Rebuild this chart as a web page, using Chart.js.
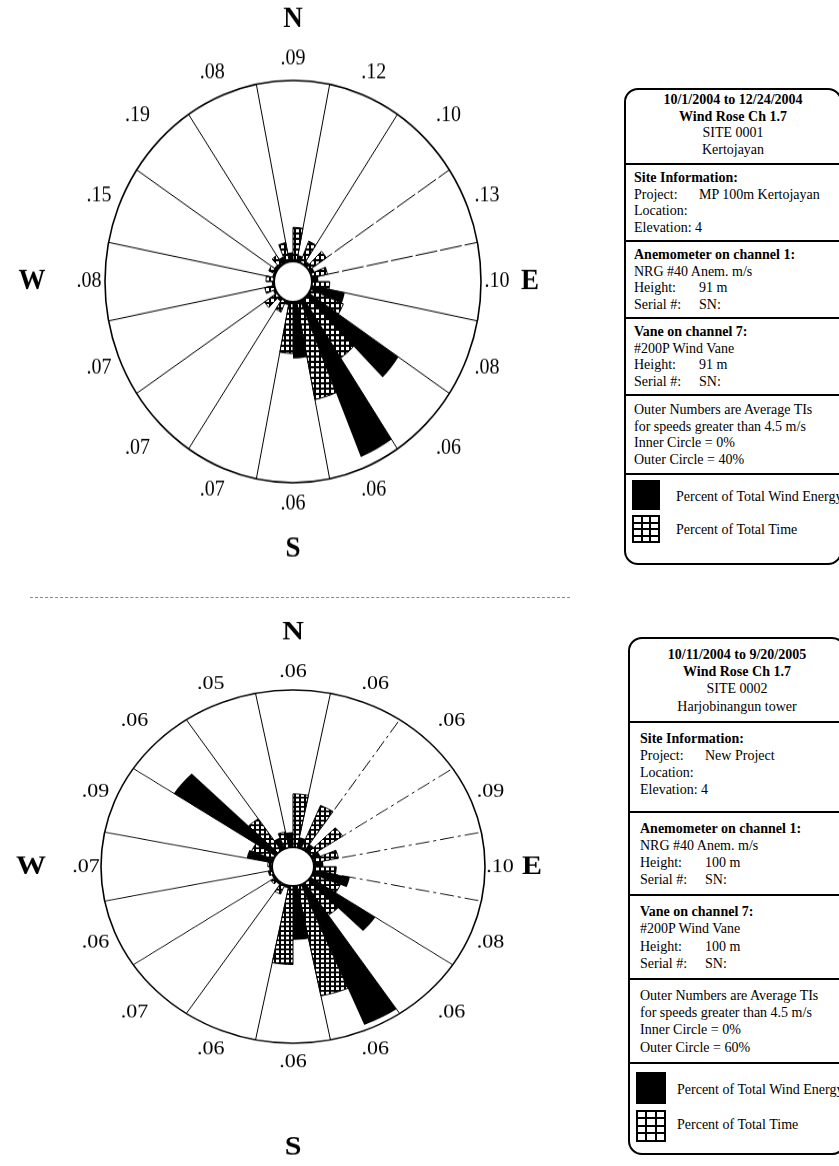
<!DOCTYPE html>
<html>
<head>
<meta charset="utf-8">
<title>Wind Rose Ch 1.7</title>
<script src="https://cdn.jsdelivr.net/npm/chart.js"></script>
<style>
  html, body { margin:0; padding:0; background:#fff; }
  body { width:839px; height:1166px; overflow:hidden; position:relative;
         font-family:"Liberation Serif","Times New Roman",serif; color:#000; }
  .wrap { position:absolute; width:590px; transform-origin:0 0; }
  .wrap canvas { display:block; }
  .sep { position:absolute; left:30px; top:597px; width:540px; border-top:1px dashed #888; }
  .box { position:absolute; width:214px; border:2px solid #000; border-radius:14px; background:#fff; font-size:14px; }
  .sec { border-bottom:2px solid #000; padding:5px 0 4px 8px; }
  .c { text-align:center; padding-left:0; }
  .ln { height:16.5px; line-height:16.5px; white-space:nowrap; }
  .b { font-weight:bold; }
  .k { display:inline-block; width:65px; }
  .leg { position:relative; }
  .sw { position:absolute; background:#000; }
  .grid { display:grid; grid-template-columns:repeat(3,1fr); grid-template-rows:repeat(4,1fr); gap:2px; padding:2px; box-sizing:border-box; }
  .grid i { background:#fff; display:block; }
  .lt { position:absolute; white-space:nowrap; line-height:17px; }
  #box2 .sec { padding:7px 0 6px 10px; }
  #box2 .ln { height:17.2px; line-height:17.2px; }
  #box2 .sec.c { padding-left:0; }
</style>
</head>
<body>

<div class="wrap" id="wrap1"><canvas id="rose1"></canvas></div>
<div class="sep"></div>
<div class="wrap" id="wrap2"><canvas id="rose2"></canvas></div>

<div class="box" id="box1" style="left:624px; top:88px;">
  <div class="sec c" style="padding-top:2px; padding-bottom:5px">
    <div class="ln b">10/1/2004 to 12/24/2004</div>
    <div class="ln b">Wind Rose Ch 1.7</div>
    <div class="ln">SITE 0001</div>
    <div class="ln">Kertojayan</div>
  </div>
  <div class="sec">
    <div class="ln b">Site Information:</div>
    <div class="ln"><span class="k">Project:</span>MP 100m Kertojayan</div>
    <div class="ln">Location:</div>
    <div class="ln">Elevation: 4</div>
  </div>
  <div class="sec">
    <div class="ln b">Anemometer on channel 1:</div>
    <div class="ln">NRG #40 Anem. m/s</div>
    <div class="ln"><span class="k">Height:</span>91 m</div>
    <div class="ln"><span class="k">Serial #:</span>SN:</div>
  </div>
  <div class="sec">
    <div class="ln b">Vane on channel 7:</div>
    <div class="ln">#200P Wind Vane</div>
    <div class="ln"><span class="k">Height:</span>91 m</div>
    <div class="ln"><span class="k">Serial #:</span>SN:</div>
  </div>
  <div class="sec" style="padding-top:6px; padding-bottom:5px">
    <div class="ln">Outer Numbers are Average TIs</div>
    <div class="ln">for speeds greater than 4.5 m/s</div>
    <div class="ln">Inner Circle = 0%</div>
    <div class="ln">Outer Circle = 40%</div>
  </div>
  <div class="leg" style="height:88px">
    <div class="sw" style="left:6px; top:5px; width:28px; height:30px"></div>
    <div class="lt" style="left:50px; top:13px">Percent of Total Wind Energy</div>
    <div class="sw grid" style="left:6px; top:40px; width:28px; height:28px"><i></i><i></i><i></i><i></i><i></i><i></i><i></i><i></i><i></i><i></i><i></i><i></i></div>
    <div class="lt" style="left:50px; top:46px">Percent of Total Time</div>
  </div>
</div>

<div class="box" id="box2" style="left:628px; top:637px;">
  <div class="sec c">
    <div class="ln b">10/11/2004 to 9/20/2005</div>
    <div class="ln b">Wind Rose Ch 1.7</div>
    <div class="ln">SITE 0002</div>
    <div class="ln">Harjobinangun tower</div>
  </div>
  <div class="sec" style="padding-bottom:12px">
    <div class="ln b">Site Information:</div>
    <div class="ln"><span class="k">Project:</span>New Project</div>
    <div class="ln">Location:</div>
    <div class="ln">Elevation: 4</div>
  </div>
  <div class="sec">
    <div class="ln b">Anemometer on channel 1:</div>
    <div class="ln">NRG #40 Anem. m/s</div>
    <div class="ln"><span class="k">Height:</span>100 m</div>
    <div class="ln"><span class="k">Serial #:</span>SN:</div>
  </div>
  <div class="sec">
    <div class="ln b">Vane on channel 7:</div>
    <div class="ln">#200P Wind Vane</div>
    <div class="ln"><span class="k">Height:</span>100 m</div>
    <div class="ln"><span class="k">Serial #:</span>SN:</div>
  </div>
  <div class="sec">
    <div class="ln">Outer Numbers are Average TIs</div>
    <div class="ln">for speeds greater than 4.5 m/s</div>
    <div class="ln">Inner Circle = 0%</div>
    <div class="ln">Outer Circle = 60%</div>
  </div>
  <div class="leg" style="height:89px">
    <div class="sw" style="left:6px; top:8px; width:30px; height:32px"></div>
    <div class="lt" style="left:47px; top:17px">Percent of Total Wind Energy</div>
    <div class="sw grid" style="left:6px; top:46px; width:30px; height:32px"><i></i><i></i><i></i><i></i><i></i><i></i><i></i><i></i><i></i><i></i><i></i><i></i></div>
    <div class="lt" style="left:47px; top:52px">Percent of Total Time</div>
  </div>
</div>

<script>
// ---- data (percent values per direction, clockwise from N) ----
const DIRECTIONS = ['N','NNE','NE','ENE','E','ESE','SE','SSE','S','SSW','SW','WSW','W','WNW','NW','NNW'];

const SITE1_TIME   = [7.5, 5.2, 5.0, 3.8, 4.2, 8.4, 15.8, 22.1, 11.4, 2.8, 3.6, 2.3, 1.9, 1.7, 2.5, 4.3];
const SITE1_ENERGY = [2.0, 1.5, 1.0, 1.0, 1.5, 8.0, 25.5, 37.5, 12.5, 0.8, 0.8, 0.6, 0.5, 0.5, 0.8, 1.5];
const SITE1_TI     = ['.09','.12','.10','.13','.10','.08','.06','.06','.06','.07','.07','.07','.08','.15','.19','.08'];
const SITE1_OUTER  = 40;

const SITE2_TIME   = [20.4, 17.9, 13.6, 8.9, 7.8, 10.6, 14.9, 42.9, 30.0, 4.0, 2.0, 1.5, 1.5, 8.3, 14.6, 6.2];
const SITE2_ENERGY = [5.8, 4.0, 3.0, 3.0, 3.3, 13.0, 27.4, 58.0, 20.6, 1.0, 1.0, 0.8, 1.0, 9.2, 42.9, 4.6];
const SITE2_TI     = ['.06','.06','.06','.09','.10','.08','.06','.06','.06','.06','.07','.06','.07','.09','.06','.05'];
const SITE2_OUTER  = 60;

const COMPASS = ['N','E','S','W'];

// ---- rendering ----
function hatchPattern() {
  const c = document.createElement('canvas');
  c.width = 5; c.height = 5;
  const g = c.getContext('2d');
  g.fillStyle = '#000'; g.fillRect(0, 0, 5, 5);
  g.fillStyle = '#fff'; g.fillRect(1, 1, 3, 3);
  return g.createPattern(c, 'repeat');
}

const roseDecor = {
  id: 'roseDecor',
  afterDatasetsDraw(chart, args, o) {
    const s = chart.scales.r, ctx = chart.ctx;
    const R = s.drawingArea;
    const r0 = s.getDistanceFromCenterForValue(0);
    ctx.save();
    ctx.beginPath();
    ctx.arc(s.xCenter, s.yCenter, r0, 0, Math.PI * 2);
    ctx.fillStyle = '#fff'; ctx.fill();
    ctx.lineWidth = 2; ctx.strokeStyle = '#000'; ctx.stroke();
    ctx.fillStyle = '#000';
    ctx.textAlign = 'center'; ctx.textBaseline = 'middle';
    ctx.font = o.tiFont;
    o.ti.forEach((t, i) => {
      const a = i * Math.PI / 8;
      const gap = o.tiGap + o.diagGap * Math.pow(Math.sin(2 * a), 4)
                  - o.sideGap * Math.pow(Math.max(0, -Math.cos(2 * a)), 4);
      const p = s.getPointPosition(2 * i + 1, R + gap);
      ctx.fillText(t, p.x, p.y);
    });
    ctx.font = o.compassFont;
    COMPASS.forEach((c, k) => {
      const p = s.getPointPosition(8 * k + 1, R + o.compassGap[k]);
      ctx.fillText(c, p.x, p.y);
    });
    ctx.restore();
  }
};

function makeRose(cfg) {
  const { id, wrapId, time, energy, ti, outer, R, r0, cx, canvasH, sy, centerY, dashed, compassGap, tiFont, compassFont, sideGap } = cfg;
  const canvas = document.getElementById(id);
  canvas.width = 590; canvas.height = canvasH;
  canvas.style.width = '590px'; canvas.style.height = canvasH + 'px';
  const wrap = document.getElementById(wrapId);
  wrap.style.height = canvasH + 'px';
  wrap.style.left = '0px';
  wrap.style.top = (centerY - (canvasH / 2) * sy) + 'px';
  wrap.style.transform = 'scaleY(' + sy + ')';

  const labels = [], values = [], fills = [], borders = [];
  const hatch = hatchPattern();
  DIRECTIONS.forEach((d, i) => {
    labels.push(d + ' energy', d + ' time');
    values.push(energy[i], time[i]);
    fills.push('#000', hatch);
    borders.push(0, 1);
  });
  const minVal = -outer * r0 / (R - r0);
  const padV = canvasH / 2 - R;
  return new Chart(canvas, {
    type: 'polarArea',
    data: {
      labels,
      datasets: [{ data: values, backgroundColor: fills, borderColor: '#000', borderWidth: borders }]
    },
    options: {
      responsive: false,
      devicePixelRatio: 1,
      animation: false,
      layout: { padding: { left: cx - R, right: 590 - cx - R, top: padV, bottom: padV } },
      plugins: {
        legend: { display: false },
        tooltip: { enabled: false },
        roseDecor: { ti, tiGap: 20, diagGap: 12, sideGap, compassGap, tiFont, compassFont }
      },
      scales: {
        r: {
          min: minVal,
          max: outer,
          startAngle: -11.25,
          ticks: { display: false },
          afterBuildTicks: (scale) => { scale.ticks = [{ value: 0 }, { value: outer }]; },
          grid: { display: true, circular: true, color: '#000', lineWidth: 1.6 },
          angleLines: {
            display: true,
            color: (c) => (c.index % 2 === 0 ? '#000' : 'rgba(0,0,0,0)'),
            lineWidth: (c) => (c.index % 2 === 0 ? 1 : 0),
            borderDash: (c) => (dashed.list.includes(c.index) ? dashed.pattern : [])
          },
          pointLabels: { display: false }
        }
      }
    },
    plugins: [roseDecor]
  });
}

makeRose({ id: 'rose1', wrapId: 'wrap1', time: SITE1_TIME, energy: SITE1_ENERGY, ti: SITE1_TI, outer: SITE1_OUTER,
  R: 188, r0: 19, cx: 293, canvasH: 560, sy: 1.07, centerY: 282,
  dashed: { list: [6, 8], pattern: [22, 3] }, sideGap: 4,
  compassGap: [57, 49, 62, 73], tiFont: '20px "Liberation Serif"', compassFont: 'bold 27px "Liberation Serif"' });

makeRose({ id: 'rose2', wrapId: 'wrap2', time: SITE2_TIME, energy: SITE2_ENERGY, ti: SITE2_TI, outer: SITE2_OUTER,
  R: 192, r0: 21, cx: 293, canvasH: 660, sy: 0.92, centerY: 867,
  dashed: { list: [4, 6, 8, 10], pattern: [14, 4, 3, 4] }, sideGap: 5,
  compassGap: [63, 47, 113, 70], tiFont: '22px "Liberation Serif"', compassFont: 'bold 30px "Liberation Serif"' });
</script>
</body>
</html>
